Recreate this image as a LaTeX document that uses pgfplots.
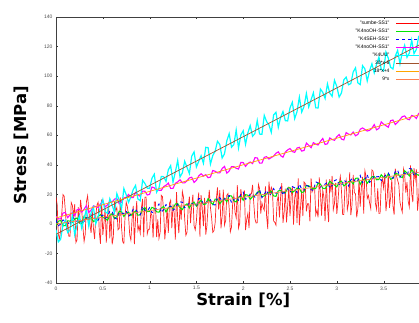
\documentclass[border=0pt]{standalone}
\usepackage{pgfplots}
\pgfplotsset{compat=1.18}
\usepackage{pgfplotstable}
\usepackage{fontspec}
\setmainfont{DejaVu Sans}
\newfontfamily\labfont{DejaVu Sans}
\newfontfamily\tickfont{Liberation Sans}
\definecolor{fitA}{RGB}{160,82,45}
\definecolor{fitB}{RGB}{255,165,0}
\definecolor{fitC}{RGB}{255,127,80}
\definecolor{grn}{RGB}{0,230,0}
\definecolor{cyn}{RGB}{0,255,255}
\definecolor{mgt}{RGB}{255,0,255}
\definecolor{rd}{RGB}{255,0,0}
\definecolor{blu}{RGB}{0,0,255}
\pgfplotsset{legend image code/.code={\draw[#1, line width=1.1pt, opacity=1] (0pt,0pt) -- (28pt,0pt);}}

\pgfplotstableread{
x cyan mag green blue
0 -4 5 -1 2.5
0.025 -12.175 3.45 1.725 -1.275
0.05 -10.35 3.4 2.45 -0.05
0.075 -0.525 7.35 -1.325 2.675
0.1 2.3 7.8 -1.1 1.9
0.125 -5.875 4.25 2.125 1.125
0.15 -4.05 6.2 1.85 -0.65
0.175 5.775 7.65 1.075 4.575
0.2 -7.4 5.6 3.3 3.3
0.225 -0.575 9.55 4.025 1.525
0.25 5.25 10 0.75 5.75
0.275 -2.925 7.95 -0.025 -0.025
0.3 3.9 9.9 5.2 1.7
0.325 9.725 12.35 3.425 4.425
0.35 -1.45 7.8 2.65 3.65
0.375 7.375 9.25 4.375 5.875
0.4 11.2 12.2 1.6 6.1
0.425 0.025 11.65 2.325 1.825
0.45 4.85 11.1 5.05 2.55
0.475 11.675 13.55 6.275 5.275
0.5 16.5 15.5 4.5 6
0.525 8.325 11.45 3.725 3.725
0.55 7.15 12.9 2.45 4.95
0.575 16.975 15.35 5.675 8.675
0.6 12.8 14.8 6.9 8.4
0.625 7.625 16.75 3.625 4.125
0.65 20.45 17.2 4.85 3.35
0.675 16.275 13.65 8.575 7.575
0.7 10.1 14.6 8.3 7.3
0.725 23.925 17.55 5.025 7.025
0.75 19.75 18 7.25 8.75
0.775 14.575 19.95 7.975 4.975
0.8 18.4 17.9 5.7 6.7
0.825 23.225 17.85 7.425 9.925
0.85 26.05 21.3 8.65 10.15
0.875 16.875 19.75 5.875 7.375
0.9 15.7 18.7 6.1 6.1
0.925 29.525 22.15 9.825 11.825
0.95 27.35 22.1 11.05 9.05
0.975 24.175 19.55 8.275 8.775
1.0 24 20 8.5 11
1.025 30.825 24.95 11.225 7.725
1.05 33.65 24.4 10.45 7.95
1.075 21.475 22.85 8.175 11.175
1.1 24.3 22.8 7.9 13.4
1.125 32.125 22.75 10.625 7.625
1.15 31.95 25.2 11.85 9.85
1.175 28.775 26.15 8.075 13.075
1.2 36.6 27.6 10.8 11.3
1.225 39.425 24.05 12.025 12.025
1.25 28.25 24 10.25 9.25
1.275 35.075 27.45 13.475 10.475
1.3 42.9 28.4 13.7 13.2
1.325 31.725 29.85 10.925 14.925
1.35 34.55 27.8 9.65 14.65
1.375 42.375 27.75 12.375 10.875
1.4 38.2 29.2 13.6 11.6
1.425 34.025 31.15 10.825 14.325
1.45 45.85 31.6 13.55 14.05
1.475 48.675 28.05 14.775 12.775
1.5 38.5 29.5 12 12
1.525 42.325 32.45 14.225 17.225
1.55 46.15 33.9 15.95 16.95
1.575 40.975 32.35 13.175 13.175
1.6 51.8 33.3 13.4 14.4
1.625 51.625 31.25 17.125 15.125
1.65 40.45 31.7 14.85 16.35
1.675 46.275 36.15 13.075 13.075
1.7 49.1 35.6 16.8 12.8
1.725 55.925 34.55 16.525 18.025
1.75 53.75 34.5 13.75 17.75
1.775 44.575 37.45 15.475 15.475
1.8 47.4 38.9 17.2 16.7
1.825 56.225 34.35 14.925 18.425
1.85 61.05 35.8 19.15 19.15
1.875 51.875 38.75 18.875 14.375
1.9 53.7 38.7 15.6 16.6
1.925 63.525 37.65 14.825 18.325
1.95 51.35 37.1 18.05 16.05
1.975 60.175 41.55 18.775 20.275
2.0 63 41.5 16 21.5
2.025 53.825 38.95 19.725 16.725
2.05 61.65 40.9 19.45 17.45
2.075 66.475 41.85 16.675 20.175
2.1 59.3 40.8 18.4 19.9
2.125 61.125 44.75 19.125 18.125
2.15 69.95 44.7 21.35 20.85
2.175 60.775 41.15 22.075 23.075
2.2 60.6 41.1 18.3 17.8
2.225 73.425 45.05 19.025 20.025
2.25 69.25 45.5 20.25 22.75
2.275 67.075 43.95 20.975 18.975
2.3 61.9 44.9 22.2 20.7
2.325 73.725 45.85 18.925 23.925
2.35 75.55 47.8 18.65 20.65
2.375 65.375 48.75 22.375 21.875
2.4 72.2 46.2 22.6 24.6
2.425 76.025 45.15 21.325 19.325
2.45 69.85 48.6 21.05 22.55
2.475 69.675 50.05 24.275 23.775
2.5 78.5 51 24.5 21
2.525 82.325 48.95 21.225 25.225
2.55 71.15 48.4 22.45 24.45
2.575 75.975 51.35 24.175 21.175
2.6 85.8 51.8 23.9 26.9
2.625 75.625 49.25 21.125 23.625
2.65 79.45 49.7 21.85 22.85
2.675 88.275 54.65 26.075 26.075
2.7 79.1 53.1 25.8 25.3
2.725 83.925 51.55 24.525 23.025
2.75 88.75 55 23.75 22.75
2.775 78.575 53.95 23.975 28.475
2.8 78.4 53.4 27.7 27.7
2.825 91.225 55.85 26.925 24.925
2.85 89.05 57.8 24.15 26.15
2.875 84.875 53.75 23.875 26.875
2.9 94.7 54.2 26.1 28.1
2.925 88.525 58.15 28.825 24.325
2.95 86.35 57.1 27.55 26.05
2.975 97.175 56.55 26.275 29.275
3.0 93 59 25 30
3.025 85.825 60.45 28.225 26.725
3.05 88.65 57.4 28.95 25.95
3.075 97.475 56.85 25.675 29.675
3.1 99.3 61.8 26.9 28.4
3.125 94.125 60.75 28.625 25.625
3.15 94.95 60.2 28.85 29.85
3.175 102.775 62.15 27.075 31.075
3.2 105.6 59.6 30.8 27.8
3.225 95.425 60.55 31.025 29.525
3.25 94.25 64 26.75 32.75
3.275 107.075 64.95 29.475 27.975
3.3 104.9 63.9 30.7 29.7
3.325 96.725 62.85 27.425 33.425
3.35 103.55 63.3 29.65 28.15
3.375 108.375 64.75 31.875 29.375
3.4 102.2 67.2 32.1 32.6
3.425 108.025 63.65 29.825 31.825
3.45 112.85 64.6 30.05 32.05
3.475 104.675 69.05 33.275 29.275
3.5 103.5 67.5 31.5 31
3.525 116.325 66.45 31.225 33.225
3.55 112.15 65.4 33.95 34.45
3.575 105.975 69.85 30.175 31.675
3.6 104.8 70.3 30.9 30.9
3.625 113.625 67.25 34.125 35.625
3.65 117.45 68.7 33.85 36.35
3.675 108.275 70.65 32.075 31.575
3.7 116.1 72.6 31.3 33.8
3.725 120.925 73.05 36.025 34.525
3.75 112.75 71 34.25 32.75
3.775 115.575 70.45 32.475 37.475
3.8 124.4 73.4 36.7 37.2
3.825 115.225 72.85 34.425 32.425
3.85 118.05 71.3 33.65 34.65
3.875 126.875 74.75 32.875 36.375
3.9 126.7 75.7 35.1 36.6
3.925 119.525 72.15 36.325 34.325
3.95 117.35 74.1 37.05 34.05
3.975 127.175 77.55 35.275 38.275
}\data

\pgfplotstableread{
x red
0 18
0.0125 12.96
0.025 -7.075
0.0375 -10.11
0.05 -4.15
0.0625 7.81
0.075 19.775
0.0875 18.74
0.1 8.7
0.1125 -3.34
0.125 0.625
0.1375 -8.41
0.15 -8.45
0.1625 14.51
0.175 12.475
0.1875 5.44
0.2 13.4
0.2125 -12.64
0.225 -10.675
0.2375 11.29
0.25 0.25
0.2625 16.21
0.275 9.175
0.2875 -1.86
0.3 -11.9
0.3125 -6.94
0.325 15.025
0.3375 18.99
0.35 9.95
0.3625 -0.09
0.375 -6.125
0.3875 8.84
0.4 -3.2
0.4125 -10.24
0.425 5.725
0.4375 12.69
0.45 14.65
0.4625 -5.39
0.475 -13.425
0.4875 16.54
0.5 -7.5
0.5125 0.46
0.525 10.425
0.5375 -12.61
0.55 5.35
0.5625 14.31
0.575 -9.725
0.5875 7.24
0.6 -13.8
0.6125 -8.84
0.625 15.125
0.6375 9.09
0.65 11.05
0.6625 -3.99
0.675 -3.025
0.6875 17.94
0.7 -2.1
0.7125 -12.14
0.725 -13.175
0.7375 4.79
0.75 14.75
0.7625 11.71
0.775 5.675
0.7875 -7.36
0.8 -11
0.8125 3.09
0.825 12.18
0.8375 -13.73
0.85 4.36
0.8625 15.45
0.875 -4.46
0.8875 -1.37
0.9 -6.28
0.9125 10.81
0.925 16.9
0.9375 -9.01
0.95 18.08
0.9625 18.17
0.975 -6.74
0.9875 -3.65
1.0 -3.56
1.0125 7.53
1.025 5.62
1.0375 -9.29
1.05 14.8
1.0625 14.89
1.075 -9.02
1.0875 3.07
1.1 -9.84
1.1125 -5.75
1.125 19.34
1.1375 18.43
1.15 8.52
1.1625 -10.39
1.175 -1.3
1.1875 10.79
1.2 -6.12
1.2125 13.97
1.225 16.06
1.2375 -2.85
1.25 13.24
1.2625 7.33
1.275 -10.58
1.2875 21.51
1.3 3.6
1.3125 -6.31
1.325 12.78
1.3375 2.87
1.35 21.96
1.3625 18.05
1.375 3.14
1.3875 -7.77
1.4 -5.68
1.4125 11.41
1.425 18.5
1.4375 0.59
1.45 12.68
1.4625 19.77
1.475 -1.14
1.4875 -4.05
1.5 2.04
1.5125 14.13
1.525 21.22
1.5375 -8.69
1.55 19.4
1.5625 10.49
1.575 -1.42
1.5875 17.67
1.6 -7.24
1.6125 -1.15
1.625 12.94
1.6375 23.03
1.65 11.12
1.6625 4.21
1.675 -5.7
1.6875 -4.61
1.7 0.48
1.7125 16.57
1.725 24.66
1.7375 9.75
1.75 22.84
1.7625 -3.07
1.775 5.02
1.7875 23.11
1.8 -0.8
1.8125 2.29
1.825 19.38
1.8375 20.47
1.85 10.56
1.8625 -5.35
1.875 -2.26
1.8875 13.83
1.9 18.92
1.9125 8.01
1.925 4.1
1.9375 26.19
1.95 -2.72
1.9625 0.37
1.975 23.46
1.9875 16.55
2.0 17.64
2.0125 22.73
2.025 -4.18
2.0375 2.91
2.05 7
2.0625 -2.91
2.075 20.18
2.0875 20.27
2.1 26.36
2.1125 14.45
2.125 3.54
2.1375 0.63
2.15 0.72
2.1625 26.81
2.175 23.9
2.1875 6.99
2.2 14.08
2.2125 11.17
2.225 9.26
2.2375 25.35
2.25 5.44
2.2625 -3.47
2.275 28.62
2.2875 19.71
2.3 24.8
2.3125 22.89
2.325 1.98
2.3375 1.07
2.35 -0.84
2.3625 15.25
2.375 19.34
2.3875 4.43
2.4 18.52
2.4125 27.61
2.425 0.7
2.4375 7.79
2.45 23.88
2.4625 0.97
2.475 12.06
2.4875 25.15
2.5 5.24
2.5125 19.33
2.525 25.42
2.5375 -0.49
2.55 17.6
2.5625 22.69
2.575 0.78
2.5875 30.87
2.6 -1.04
2.6125 11.05
2.625 23.14
2.6375 5.23
2.65 28.32
2.6625 27.41
2.675 8.5
2.6875 13.59
2.7 13.68
2.7125 1.77
2.725 30.86
2.7375 21.95
2.75 24.04
2.7625 25.13
2.775 6.22
2.7875 9.31
2.8 4.4
2.8125 31.49
2.825 20.58
2.8375 5.67
2.85 22.76
2.8625 17.85
2.875 1.94
2.8875 30.03
2.9 12.12
2.9125 1.21
2.925 30.3
2.9375 21.39
2.95 32.48
2.9625 9.57
2.975 13.66
2.9875 27.75
3.0 6.84
3.0125 14.93
3.025 27.02
3.0375 32.11
3.05 22.2
3.0625 6.29
3.075 6.38
3.0875 25.47
3.1 29.56
3.1125 9.65
3.125 13.74
3.1375 34.83
3.15 5.92
3.1625 13.01
3.175 33.1
3.1875 21.19
3.2 20.28
3.2125 4.37
3.225 10.46
3.2375 30.55
3.25 11.64
3.2625 24.73
3.275 31.82
3.2875 6.91
3.3 36
3.3125 32.09
3.325 17.18
3.3375 19.27
3.35 14.36
3.3625 10.45
3.375 36.54
3.3875 35.63
3.4 29.72
3.4125 13.81
3.425 9.9
3.4375 23.99
3.45 7.08
3.4625 7.17
3.475 27.26
3.4875 30.35
3.5 24.44
3.5125 34.53
3.525 8.62
3.5375 16.71
3.55 33.8
3.5625 10.89
3.575 17.98
3.5875 30.07
3.6 12.16
3.6125 6.25
3.625 37.34
3.6375 32.43
3.65 29.52
3.6625 26.61
3.675 14.7
3.6875 10.79
3.7 7.88
3.7125 36.97
3.725 33.06
3.7375 21.15
3.75 28.24
3.7625 15.33
3.775 11.42
3.7875 39.51
3.8 20.6
3.8125 14.69
3.825 37.78
3.8375 29.87
3.85 36.96
3.8625 9.05
3.875 18.14
3.8875 35.23
3.9 15.32
3.9125 25.41
3.925 23.5
3.9375 11.59
3.95 26.68
3.9625 36.77
3.975 35.86
3.9875 20.95
}\redd

\begin{document}
\begin{tikzpicture}
\begin{axis}[
  scale only axis, width=374.4pt, height=266pt,
  at={(56pt,39pt)}, anchor=south west,
  xmin=0, xmax=4, ymin=-40, ymax=140,
  xtick={0,0.5,1,1.5,2,2.5,3,3.5}, ytick={-40,-20,0,20,40,60,80,100,120,140},
  tick align=inside, major tick length=2pt,
  tick label style={font=\tickfont\fontsize{5}{6}\selectfont, text=black!70},
  /pgf/number format/assume math mode=true,
  axis line style={black!75},
  tick style={black!80},
  xlabel={Strain [\%]}, ylabel={Stress [MPa]},
  label style={font=\labfont\bfseries\fontsize{16.5}{18}\selectfont},
  xlabel style={at={(axis description cs:0.5,-0.064)}, anchor=center},
  ylabel style={at={(axis description cs:-0.093,0.517)}, anchor=center},
  legend style={draw=none, fill=none, font=\tickfont\fontsize{5}{6}\selectfont,
    at={(axis description cs:0.985,0.99)}, anchor=north east, inner sep=0pt,
    row sep=1pt, column sep=5pt,
    nodes={inner sep=1pt, text height=4pt, text depth=1pt}},
  legend plot pos=right, legend cell align=right,
]
\addplot[rd, opacity=0.85, line width=0.7pt] table[x=x,y=red]{\redd};
\addlegendentry{"sumbe-SS1"}
\addplot[grn, line width=1pt] table[x=x,y=green]{\data};
\addlegendentry{"K4noOH-SS1"}
\addplot[blu, dashed, line width=0.9pt] table[x=x,y=blue]{\data};
\addlegendentry{"K4SEH-SS1"}
\addplot[mgt, line width=1.1pt] table[x=x,y=mag]{\data};
\addlegendentry{"K4noOH-SS1"}
\addplot[cyn, line width=1.2pt] table[x=x,y=cyan]{\data};
\addlegendentry{"K4UU"}
\addplot[fitA, line width=0.7pt] coordinates {(0,-7) (4,125)};
\addlegendentry{30*x-6}
\addplot[fitB, line width=0.7pt] coordinates {(0,4) (4,76)};
\addlegendentry{18*x+4}
\addplot[fitC, line width=0.7pt] coordinates {(0,0) (4,36)};
\addlegendentry{9*x}
\end{axis}
\pgfresetboundingbox
\useasboundingbox (0,0) rectangle (419pt,322pt);
\end{tikzpicture}
\end{document}
